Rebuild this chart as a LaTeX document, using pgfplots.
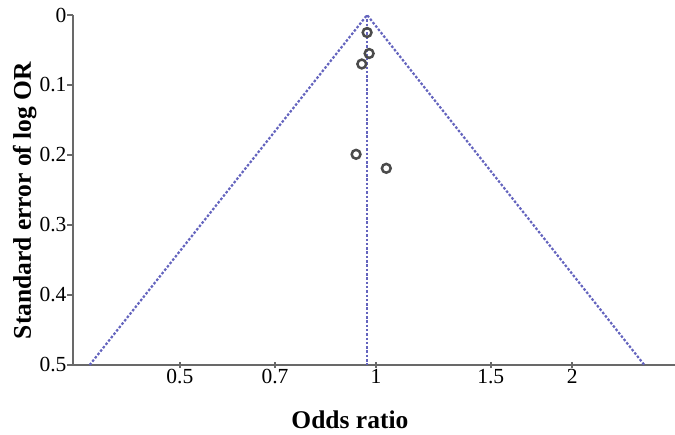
\documentclass[border=0pt]{standalone}
\usepackage{pgfplots}
\pgfplotsset{compat=1.18}
\usepackage{fontspec}
\setmainfont{Liberation Serif}
\definecolor{funnel}{RGB}{100,100,190}
\definecolor{axgray}{RGB}{105,105,105}
\definecolor{markgray}{RGB}{75,75,75}
\begin{document}
\begin{tikzpicture}
\useasboundingbox (-73pt,-70pt) rectangle (602pt,365pt);
\begin{axis}[
  at={(0,0)}, anchor=south west,
  scale only axis, width=602pt, height=350pt,
  xmode=log, xmin=0.3428, xmax=2.876,
  ymin=0, ymax=0.5, y dir=reverse,
  axis x line=bottom, axis y line=left,
  axis line style={-, axgray, line width=2.6pt},
  xtick={0.5,0.7,1,1.5,2}, xticklabels={0.5,0.7,1,1.5,2},
  ytick={0,0.1,0.2,0.3,0.4,0.5}, yticklabels={0,0.1,0.2,0.3,0.4,0.5},
  xtick align=center, ytick align=outside,
  major tick length=6pt,
  tick style={axgray, line width=2.2pt},
  minor tick num=0, log ticks with fixed point,
  /pgf/number format/assume math mode=true,
  ticklabel style={font=\fontsize{21.5}{24}\selectfont, black},
  xticklabel style={yshift=2pt},
  yticklabel style={xshift=3pt},
  xlabel={Odds ratio}, ylabel={Standard error of log OR},
  label style={font=\fontsize{25.5}{30}\selectfont\bfseries},
  xlabel style={at={(axis description cs:0.46,-0.157)}, anchor=center},
  ylabel style={at={(axis description cs:-0.08,0.47)}, anchor=center},
  clip=false,
]
\addplot[funnel, line width=2.2pt, dash pattern=on 2.5pt off 1.8pt] coordinates {(0.3636,0.5) (0.969,0) (2.581,0.5)};
\addplot[funnel, line width=2.2pt, dash pattern=on 2.5pt off 1.8pt] coordinates {(0.969,0) (0.969,0.5)};
\addplot[only marks, mark=o, mark size=4.4pt, markgray, line width=2.5pt] coordinates {
(0.969,0.025) (0.976,0.055) (0.951,0.070) (0.932,0.199) (1.037,0.219)};
\end{axis}
\end{tikzpicture}
\end{document}
